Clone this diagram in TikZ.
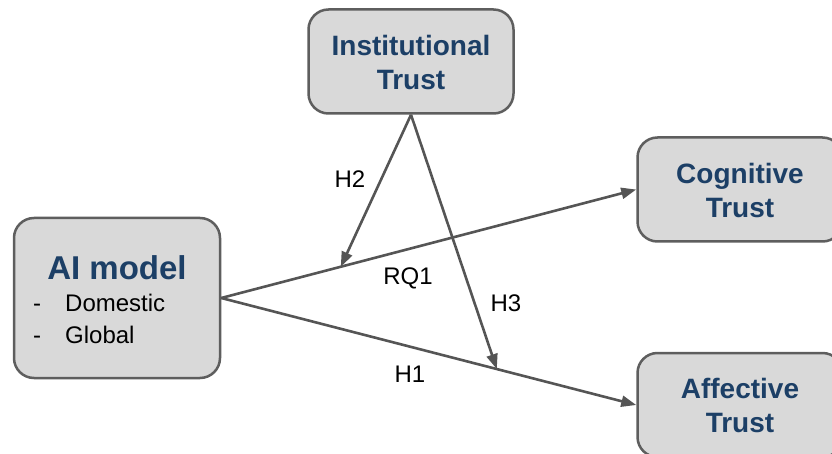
\documentclass[tikz,border=0pt]{standalone}
\usepackage{fontspec}
\setmainfont{Liberation Sans}
\usetikzlibrary{arrows.meta,calc}
\definecolor{boxfill}{HTML}{D9D9D9}
\definecolor{boxline}{HTML}{5E5E5E}
\definecolor{titlecol}{HTML}{1C3F66}
\definecolor{arrowcol}{HTML}{555555}
\tikzset{
  box/.style={draw=boxline, line width=2.5pt, fill=boxfill, rounded corners=20pt,
    minimum width=205pt, minimum height=104pt, inner sep=0pt},
  boxtitle/.style={text=titlecol, font=\fontsize{28}{34}\selectfont\bfseries, align=center, inner sep=0pt},
  lbl/.style={text=black, font=\fontsize{24}{29}\selectfont, inner sep=0pt},
  conn/.style={draw=arrowcol, line width=2.6pt, -{Triangle[length=15pt,width=11pt]}},
}
\begin{document}
\begin{tikzpicture}[x=1pt,y=-1pt]
\useasboundingbox (0,0) rectangle (832,454);
\clip (0,0) rectangle (832,454);
% boxes
\node[box] (inst) at (411,61.5) {};
\node[boxtitle] (instt) at (411,62) {Institutional\\Trust};
\node[box, minimum width=206pt, minimum height=160pt] (ai) at (117,298) {};
\node[boxtitle, font=\fontsize{33}{38}\selectfont\bfseries] (ait) at (117,268) {AI model};
\node[lbl, anchor=west] (dom) at (33,303) {-\hspace{24pt}Domestic};
\node[lbl, anchor=west] (glob) at (33,335) {-\hspace{24pt}Global};
\node[box] (cog) at (740,189.5) {};
\node[boxtitle] (cogt) at (740,190) {Cognitive\\Trust};
\node[box] (aff) at (740,405) {};
\node[boxtitle] (afft) at (740,405) {Affective\\Trust};
% connectors
\coordinate (h2end) at ($(ai.east)!0.288!(cog.west)$);
\coordinate (h3end) at ($(ai.east)!0.664!(aff.west)$);
\draw[conn] (ai.east) -- (cog.west);
\draw[conn] (ai.east) -- (aff.west);
\draw[conn] (inst.south) -- (h2end);
\draw[conn] (inst.south) -- (h3end);
% labels
\node[lbl] (lh2) at (350,179) {H2};
\node[lbl] (lrq) at (408,278) {RQ1};
\node[lbl] (lh3) at (506,303) {H3};
\node[lbl] (lh1) at (410,374) {H1};
\end{tikzpicture}
\end{document}
